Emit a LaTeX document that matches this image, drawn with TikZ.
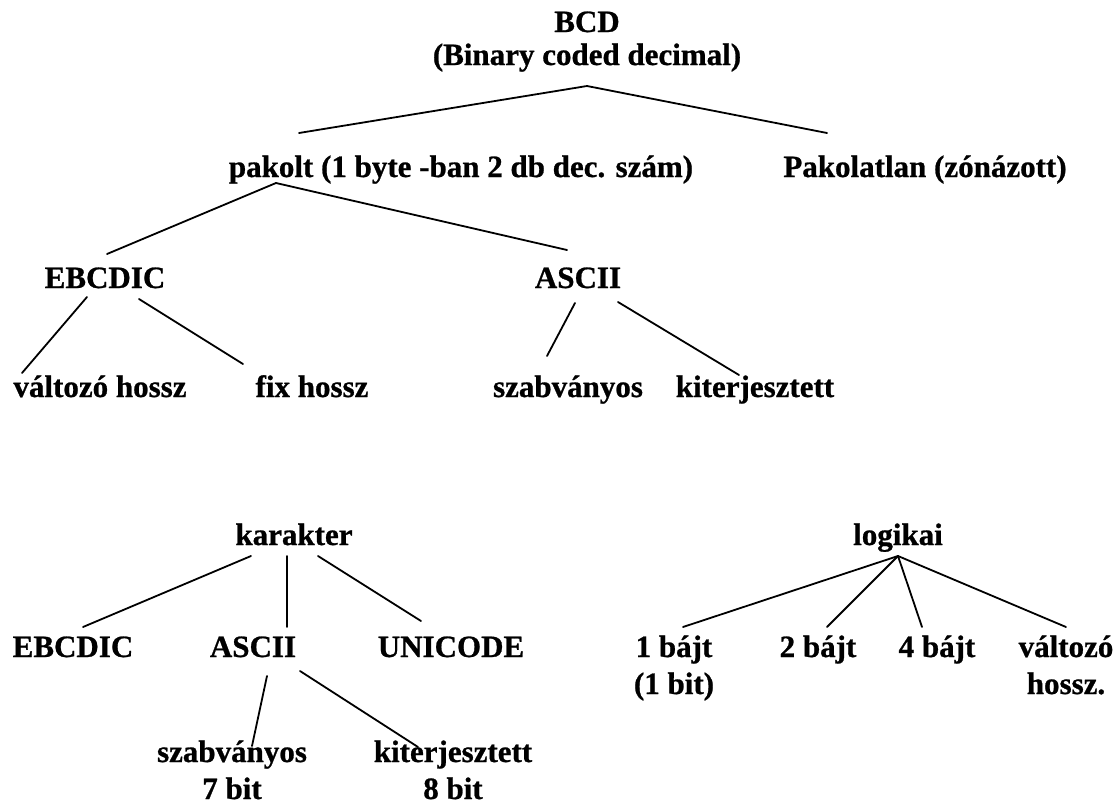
\documentclass[tikz,border=0pt]{standalone}
\usepackage{fontspec}
\setmainfont{Liberation Serif}[BoldFeatures={FakeBold=0.8}]
% two stacked lines; the box baseline is the first line's baseline
\newcommand\twoline[2]{\begin{tabular}[t]{@{}c@{}}#1\\#2\end{tabular}}
\begin{document}
\begin{tikzpicture}[x=1pt,y=-1pt,
  lbl/.style={anchor=base, inner sep=0pt, font=\fontsize{31}{37}\selectfont\bfseries},
  edge/.style={line width=1.8pt, line cap=round}]
\useasboundingbox (0,0) rectangle (1120,809);
\fill[white] (0,0) rectangle (1120,809);

% ---- BCD tree ----
\node[lbl, font=\fontsize{31}{33}\selectfont\bfseries] (bcd) at (587,32) {\twoline{BCD}{(Binary coded decimal)}};
\node[lbl] (pak) at (461,177) {pakolt (1 byte -ban 2 db dec. szám)};
\node[lbl] (unp) at (925,177) {Pakolatlan (zónázott)};
\node[lbl] (eb1) at (105,288) {EBCDIC};
\node[lbl] (as1) at (578,288) {ASCII};
\node[lbl] (vh1) at (100,397) {változó hossz};
\node[lbl] (fx1) at (312,397) {fix hossz};
\node[lbl] (sz1) at (568,397) {szabványos};
\node[lbl] (kt1) at (755,397) {kiterjesztett};

\draw[edge] ([shift={(0,54)}]bcd.base) -- ([shift={(-162,-44)}]pak.base);
\draw[edge] ([shift={(0,54)}]bcd.base) -- ([shift={(-98,-44)}]unp.base);
\draw[edge] ([shift={(-185,6)}]pak.base) -- ([shift={(2,-34)}]eb1.base);
\draw[edge] ([shift={(-185,6)}]pak.base) -- ([shift={(-11,-38)}]as1.base);
\draw[edge] ([shift={(-18,9)}]eb1.base) -- ([shift={(-78,-24)}]vh1.base);
\draw[edge] ([shift={(34,11)}]eb1.base) -- ([shift={(-69,-33)}]fx1.base);
\draw[edge] ([shift={(-3,15)}]as1.base) -- ([shift={(-21,-41)}]sz1.base);
\draw[edge] ([shift={(40,14)}]as1.base) -- ([shift={(-16,-22)}]kt1.base);

% ---- karakter tree ----
\node[lbl] (kar) at (294,545) {karakter};
\node[lbl] (eb2) at (73,657) {EBCDIC};
\node[lbl] (as2) at (253,657) {ASCII};
\node[lbl] (uni) at (451,657) {UNICODE};
\node[lbl] (sz2) at (232,762) {\twoline{szabványos}{7 bit}};
\node[lbl] (kt2) at (453,762) {\twoline{kiterjesztett}{8 bit}};

\draw[edge] ([shift={(-43,11)}]kar.base) -- ([shift={(10,-30)}]eb2.base);
\draw[edge] ([shift={(-7,11)}]kar.base) -- ([shift={(34,-30)}]as2.base);
\draw[edge] ([shift={(24,11)}]kar.base) -- ([shift={(-30,-36)}]uni.base);
\draw[edge] ([shift={(14,19)}]as2.base) -- ([shift={(20,-16)}]sz2.base);
\draw[edge] ([shift={(47,14)}]as2.base) -- ([shift={(-35,-15)}]kt2.base);

% ---- logikai tree ----
\node[lbl] (log) at (898,545) {logikai};
\node[lbl] (b1) at (674,657) {\twoline{1 bájt}{(1 bit)}};
\node[lbl] (b2) at (818,657) {2 bájt};
\node[lbl] (b4) at (937,657) {4 bájt};
\node[lbl] (vh2) at (1066,657) {\twoline{változó}{hossz.}};

\draw[edge] ([shift={(0,11)}]log.base) -- ([shift={(9,-30)}]b1.base);
\draw[edge] ([shift={(0,11)}]log.base) -- ([shift={(9,-30)}]b2.base);
\draw[edge] ([shift={(0,11)}]log.base) -- ([shift={(-15,-30)}]b4.base);
\draw[edge] ([shift={(0,11)}]log.base) -- ([shift={(0,-30)}]vh2.base);
\end{tikzpicture}
\end{document}
